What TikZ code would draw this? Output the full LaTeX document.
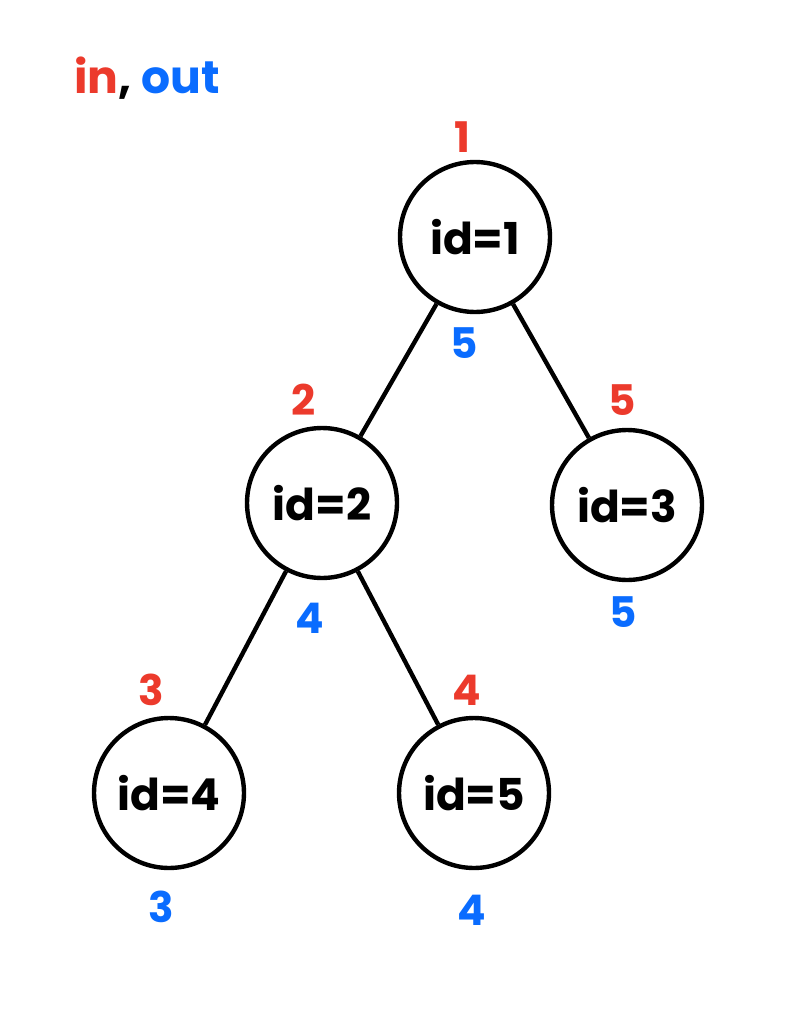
\documentclass[tikz,border=0pt]{standalone}
\usepackage{fontspec}
\setmainfont{Poppins}
\usepackage{tikz}
\usetikzlibrary{positioning}
\definecolor{inred}{RGB}{236,58,44}
\definecolor{outblue}{RGB}{10,108,255}

\begin{document}
\begin{tikzpicture}[
    x=0.02cm, y=-0.02cm,
    treenode/.style={circle, draw, line width=2.5pt, minimum size=3.0cm, inner sep=0pt,
                     font=\fontsize{25}{28}\selectfont\bfseries},
    inlabel/.style={font=\fontsize{24}{28}\selectfont\bfseries, text=inred},
    outlabel/.style={font=\fontsize{24}{28}\selectfont\bfseries, text=outblue},
    edge/.style={line width=2.5pt}
]
\useasboundingbox (0,0) rectangle (788,1010);

% legend
\node[anchor=west, font=\fontsize{26}{30}\selectfont\bfseries] (legend) at (68,78)
    {\textcolor{inred}{in}, \textcolor{outblue}{out}};

% tree
\node[treenode] (n1) at (475,237) {id=1};
\node[treenode] (n2) at (322,503) {id=2};
\node[treenode] (n3) at (627,505) {id=3};
\node[treenode] (n4) at (169,793) {id=4};
\node[treenode] (n5) at (474,793) {id=5};

\draw[edge] (n1) -- (n2);
\draw[edge] (n1) -- (n3);
\draw[edge] (n2) -- (n4);
\draw[edge] (n2) -- (n5);

% in times
\node[inlabel] (in1) at (462,137) {1};
\node[inlabel] (in2) at (304,400) {2};
\node[inlabel] (in3) at (622,400) {5};
\node[inlabel] (in4) at (151,690) {3};
\node[inlabel] (in5) at (467,690) {4};

% out times
\node[outlabel] (out1) at (464,343) {5};
\node[outlabel] (out2) at (310,618) {4};
\node[outlabel] (out3) at (623,612) {5};
\node[outlabel] (out4) at (161,907) {3};
\node[outlabel] (out5) at (472,910) {4};

\end{tikzpicture}
\end{document}
